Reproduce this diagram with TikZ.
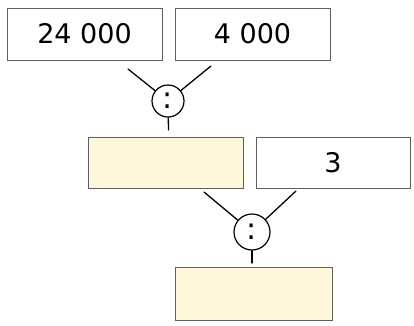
\documentclass[tikz,border=0pt]{standalone}
\usepackage{fontspec}
\setmainfont{DejaVu Sans}
\definecolor{paleyellow}{RGB}{254,247,218}
\definecolor{boxline}{RGB}{95,95,95}
\begin{document}
\begin{tikzpicture}[x=1pt,y=-1pt,
  numbox/.style={draw=boxline,line width=0.9pt,rectangle,minimum width=155pt,minimum height=52pt,inner sep=0pt,font=\fontsize{27}{30}\selectfont},
  answerbox/.style={numbox,fill=paleyellow},
  opcircle/.style={draw,circle,line width=1.2pt,inner sep=0pt,font=\fontsize{30}{32}\selectfont},
  conn/.style={line width=1.3pt,line cap=round}]
\useasboundingbox (0,0) rectangle (414,325);
\node[numbox] (b1) at (84.5,34) {24 000};
\node[numbox] (b2) at (252.5,34) {4 000};
\node[opcircle,minimum size=32pt] (c1) at (168,101) {:};
\coordinate (l1) at (128,69);
\coordinate (r1) at (211,66);
\coordinate (d1) at (168.5,130);
\draw[conn] (l1) -- (c1);
\draw[conn] (r1) -- (c1);
\draw[conn] (c1) -- (d1);
\node[answerbox,minimum height=51pt] (b3) at (165.5,163) {};
\node[numbox,minimum width=154pt,minimum height=51pt] (b4) at (333,163) {3};
\node[opcircle,minimum size=36pt] (c2) at (252,232) {:};
\coordinate (l2) at (204,192);
\coordinate (r2) at (296,191);
\coordinate (d2) at (252,263);
\draw[conn] (l2) -- (c2);
\draw[conn] (r2) -- (c2);
\draw[conn] (c2) -- (d2);
\node[answerbox,minimum width=157pt,minimum height=53pt] (b5) at (253.5,293.5) {};
\end{tikzpicture}
\end{document}
